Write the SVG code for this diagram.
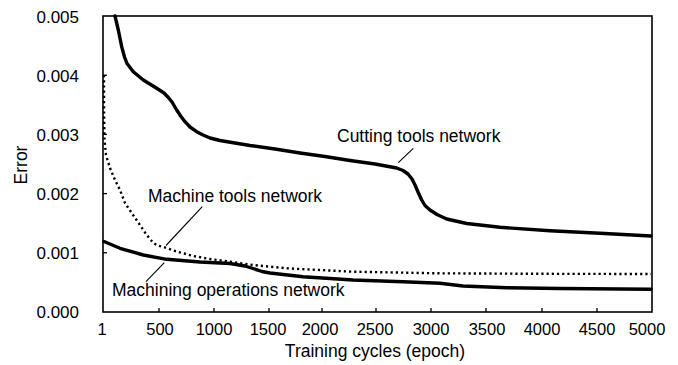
<svg xmlns="http://www.w3.org/2000/svg" width="678" height="365" viewBox="0 0 678 365">
<style>
.t{font-family:"Liberation Sans",Arial,sans-serif;fill:#000}
.yl{font-size:17px;text-anchor:end}
.xl{font-size:16.5px;text-anchor:middle}
.lab{font-size:17.5px}
.ax{fill:none;stroke:#000;stroke-width:1.6}
.tk{stroke:#000;stroke-width:1.3}
.ld{stroke:#000;stroke-width:1.1;fill:none}
.cv{fill:none;stroke:#000;stroke-width:3.4;stroke-linejoin:round;stroke-linecap:round}
.dot{fill:none;stroke:#000;stroke-width:2.4;stroke-dasharray:2.2 3}
</style>
<rect id="frame" class="ax" x="103" y="16" width="549" height="296"/>
<g id="yticks">
<line class="tk" x1="103" y1="75.2" x2="107" y2="75.2"/>
<line class="tk" x1="103" y1="134.4" x2="107" y2="134.4"/>
<line class="tk" x1="103" y1="193.6" x2="107" y2="193.6"/>
<line class="tk" x1="103" y1="252.8" x2="107" y2="252.8"/>
</g>
<g id="xticks">
<line class="tk" x1="159" y1="312" x2="159" y2="308"/>
<line class="tk" x1="214" y1="312" x2="214" y2="308"/>
<line class="tk" x1="269" y1="312" x2="269" y2="308"/>
<line class="tk" x1="322" y1="312" x2="322" y2="308"/>
<line class="tk" x1="376" y1="312" x2="376" y2="308"/>
<line class="tk" x1="431" y1="312" x2="431" y2="308"/>
<line class="tk" x1="486" y1="312" x2="486" y2="308"/>
<line class="tk" x1="542" y1="312" x2="542" y2="308"/>
<line class="tk" x1="597" y1="312" x2="597" y2="308"/>
</g>
<g id="ylabels" class="t yl">
<text x="79" y="22.5">0.005</text>
<text x="79" y="81.5">0.004</text>
<text x="79" y="140.5">0.003</text>
<text x="79" y="199.7">0.002</text>
<text x="79" y="258.9">0.001</text>
<text x="79" y="318">0.000</text>
</g>
<g id="xlabels" class="t xl">
<text x="102" y="335">1</text>
<text x="160" y="335">500</text>
<text x="214" y="335">1000</text>
<text x="268" y="335">1500</text>
<text x="320" y="335">2000</text>
<text x="375" y="335">2500</text>
<text x="431" y="335">3000</text>
<text x="487" y="335">3500</text>
<text x="542" y="335">4000</text>
<text x="597" y="335">4500</text>
<text x="647" y="335">5000</text>
</g>
<text class="t lab" x="375" y="357" text-anchor="middle">Training cycles (epoch)</text>
<text class="t lab" transform="translate(27,165) rotate(-90)" text-anchor="middle">Error</text>
<g id="curves">
<polyline id="cutting" class="cv" points="115,16 118.3,30 121.7,46.7 124.5,57 127,63.5 133.3,71.7 143.3,80 156.7,88.3 164,93 168.3,97.5 172,102 176.7,110 181,116.5 185,121.7 190,127 196.7,131.7 203,135 210,138 220,140.5 235,143 250,145.5 275,149 300,153 325,156.5 350,160.5 375,164 396.7,168 403,170.5 408,174 412,179 415,185 418,192 421.7,200 425,205.5 430,210 437,214.5 446.7,219 466.7,223.5 500,227.3 550,230.7 600,233.3 651,236"/>
<polyline id="machining" class="cv" points="104,241.5 120,248.3 143.3,255 166.7,259.3 200,262 230,263.5 245,266 253,268.5 262,271.5 270,273 303,276.7 353,280 403,281.7 440,283.3 463,286 506.7,287.7 560,288.5 651,289.3"/>
<polyline id="machine" class="dot" points="104,75 104,110 104.5,140 106,155 110,168 115,180 120,190 125,203 131.7,213 140,225 146.7,235 153.3,243 158,245.5 163.3,247 176.7,251.5 193.3,256 210,259 230,261.7 253,265 286.7,268.3 353,271.7 436.7,273.3 540,273.8 651,274"/>
</g>
<g id="connectors">
<line class="ld" x1="413.3" y1="148.3" x2="398.3" y2="162.7"/>
<line class="ld" x1="202.3" y1="206.7" x2="166" y2="245.5"/>
<line class="ld" x1="146" y1="281.7" x2="164.3" y2="262.7"/>
</g>
<g id="label-cutting"><text class="t lab" x="337" y="142">Cutting tools network</text></g>
<g id="label-machine"><text class="t lab" x="148" y="202">Machine tools network</text></g>
<g id="label-machining"><text class="t lab" x="112" y="296">Machining operations network</text></g>
</svg>
